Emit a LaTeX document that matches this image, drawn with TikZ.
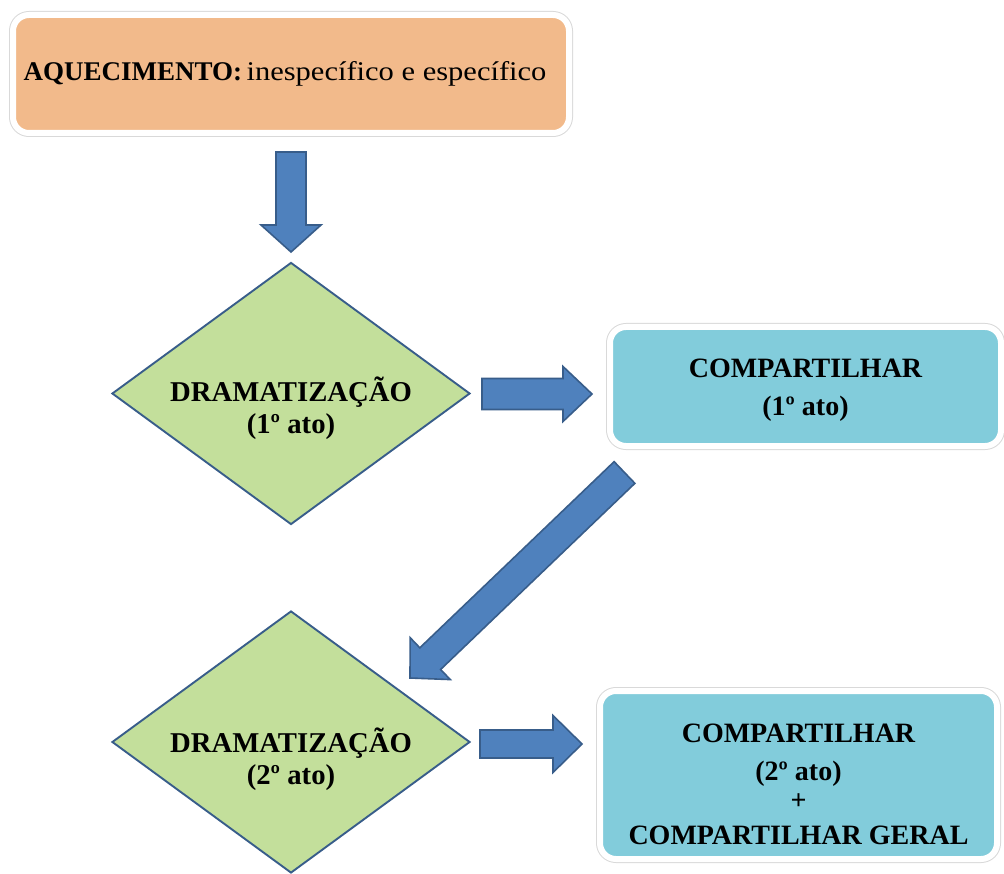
\documentclass[tikz,border=0pt]{standalone}
\usepackage{fontspec}
\setmainfont{Liberation Serif}
\usetikzlibrary{shapes.geometric,calc,shadows}
\definecolor{orangefill}{HTML}{F2BA8B}
\definecolor{bluefill}{HTML}{82CCDB}
\definecolor{greenfill}{HTML}{C3DF9B}
\definecolor{arrowfill}{HTML}{4F81BD}
\definecolor{arrowline}{HTML}{385D8A}
\tikzset{
  barrow/.style={fill=arrowfill, draw=arrowline, line width=1.6pt, line join=miter},
  roundbox/.style={rectangle, rounded corners=16pt, draw=white, line width=6pt,
    drop shadow={opacity=0.25, shadow xshift=1.5pt, shadow yshift=-2pt},
    preaction={draw=black!15, line width=8pt},
    align=center, inner sep=0pt, text=black,
    font=\fontsize{28}{38}\selectfont\bfseries},
  diam/.style={diamond, fill=greenfill, draw=arrowline, line width=1.9pt, inner sep=0pt,
    minimum width=358pt, minimum height=262pt},
  diamtext/.style={align=center, inner sep=0pt, font=\fontsize{28.7}{32}\selectfont\bfseries}
}
\newcommand\blockarrow[5]{%
  \coordinate (bah) at ($(#2)!#5!(#1)$);
  \draw[barrow] ($(#1)!#3!90:(#2)$) -- ($(bah)!#3!90:(#2)$) -- ($(bah)!#4!90:(#2)$) -- (#2)
    -- ($(bah)!#4!-90:(#2)$) -- ($(bah)!#3!-90:(#2)$) -- ($(#1)!#3!-90:(#2)$) -- cycle;}
\begin{document}
\begin{tikzpicture}[x=1pt, y=-1pt]
\useasboundingbox (0,0) rectangle (1004,874);
\fill[white] (0,0) rectangle (1004,874);

\node[roundbox, fill=orangefill, minimum width=556pt, minimum height=118pt,
  font=\fontsize{27}{37}\selectfont\bfseries] (warm) at (291,74)
  {AQUECIMENTO:\,\mdseries\scalebox{1.13}[1]{inespecífico e específico}\hspace*{12pt}};

\node[diam] (drama1) at (291,393.5) {};
\node[diamtext] (drama1text) at ($(drama1.center)+(0,15)$) {DRAMATIZAÇÃO\\(1º ato)};

\node[roundbox, fill=bluefill, minimum width=391pt, minimum height=119pt] (share1) at (805.5,386.5)
  {\rule{0pt}{26pt}COMPARTILHAR\\(1º ato)};

\node[diam] (drama2) at (291,742) {};
\node[diamtext] (drama2text) at ($(drama2.center)+(0,17)$) {DRAMATIZAÇÃO\\(2º ato)};

\node[roundbox, fill=bluefill, minimum width=397pt, minimum height=168pt] (share2) at (798.5,775)
  {\rule{0pt}{38pt}COMPARTILHAR\\(2º ato)\\[-9pt]+\\[-3pt]COMPARTILHAR GERAL};

\coordinate (a1s) at (291,152);
\coordinate (a1e) at (291,252);
\coordinate (a2s) at (482,394);
\coordinate (a2e) at (592,394);
\coordinate (a3s) at (624.5,472.5);
\coordinate (a3e) at (410,678);
\coordinate (a4s) at (480,744);
\coordinate (a4e) at (582,744);

\blockarrow{a1s}{a1e}{15pt}{30pt}{27pt}
\blockarrow{a2s}{a2e}{15.5pt}{27.5pt}{29pt}
\blockarrow{a3s}{a3e}{15pt}{29pt}{28pt}
\blockarrow{a4s}{a4e}{14pt}{28.5pt}{29pt}
\end{tikzpicture}
\end{document}
